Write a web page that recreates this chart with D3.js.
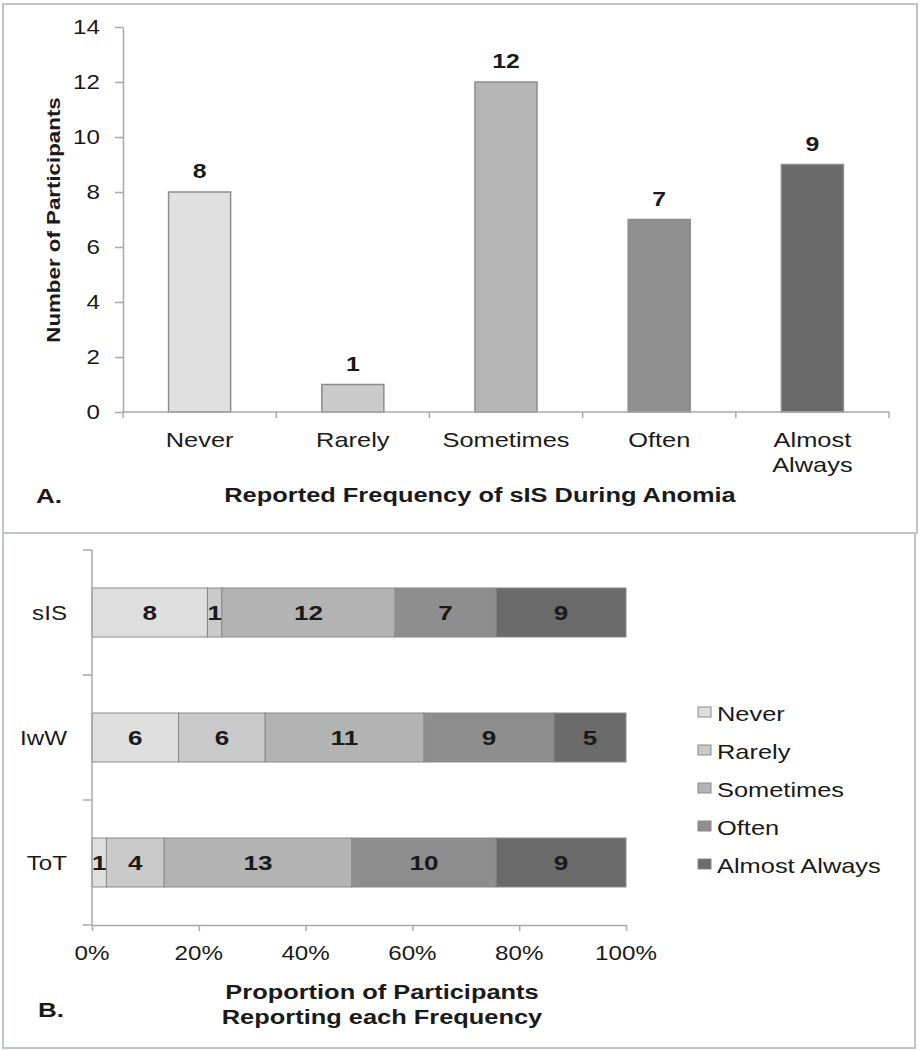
<!DOCTYPE html>
<html>
<head>
<meta charset="utf-8">
<script src="https://cdn.jsdelivr.net/npm/d3@7"></script>
<style>
  html, body { margin: 0; padding: 0; background: #fff; }
  svg { display: block; }
  text { font-family: "Liberation Sans", Arial, Helvetica, sans-serif; fill: #1a1a1a; }
</style>
</head>
<body>
<svg id="chart" width="921" height="1050"></svg>
<script>
// ---------- data ----------
const categories = ["Never", "Rarely", "Sometimes", "Often", "Almost Always"];
const countsSIS = [8, 1, 12, 7, 9];
const groups = ["sIS", "IwW", "ToT"];
const countsIwW = [6, 6, 11, 9, 5];
const countsToT = [1, 4, 13, 10, 9];
const yTicksA = [0, 2, 4, 6, 8, 10, 12, 14];
const xTicksB = [0, 0.2, 0.4, 0.6, 0.8, 1.0];
const xTickLabelsB = ["0%", "20%", "40%", "60%", "80%", "100%"];
const shadesA = ["#e0e0e0", "#cacaca", "#b6b6b6", "#8f8f8f", "#6a6a6a"];
const shadesB = ["#dedede", "#c9c9c9", "#b3b3b3", "#8e8e8e", "#6b6b6b"];

const svg = d3.select("#chart");
const STRETCH = 1.24;
const axisColor = "#a9a9a9";

function label(x, y, txt, o = {}) {
  const r = o.rotate || 0;
  return svg.append("text")
    .attr("transform", `translate(${x},${y}) rotate(${r}) scale(${STRETCH},1)`)
    .attr("text-anchor", o.anchor || "middle")
    .attr("font-size", o.size || 18)
    .attr("font-weight", o.bold ? "bold" : "normal")
    .text(txt);
}

// ---------- panel frames ----------
svg.append("rect").attr("x", 3).attr("y", 4).attr("width", 914).attr("height", 529)
  .attr("fill", "none").attr("stroke", "#c2c4c8").attr("stroke-width", 2);
svg.append("rect").attr("x", 3).attr("y", 533).attr("width", 912).attr("height", 515)
  .attr("fill", "none").attr("stroke", "#c0c4cc").attr("stroke-width", 2);

// ================= Panel A =================
const xA = d3.scaleBand().domain(categories).range([123, 889])
  .paddingInner(0.595).paddingOuter(0.2975);
const yA = d3.scaleLinear().domain([0, 14]).range([412, 27]);

// y axis
const gyA = svg.append("g").attr("transform", "translate(123,0)")
  .call(d3.axisLeft(yA).tickValues(yTicksA).tickSize(8).tickSizeOuter(0).tickFormat(""));
gyA.selectAll("path, line").attr("stroke", axisColor).attr("stroke-width", 1.5);
yTicksA.forEach(v => label(100, yA(v) + 7, String(v), { anchor: "end", size: 19.5 }));

// bars
svg.append("g").selectAll("rect").data(categories).join("rect")
  .attr("x", d => xA(d))
  .attr("y", (d, i) => yA(countsSIS[i]))
  .attr("width", xA.bandwidth())
  .attr("height", (d, i) => yA(0) - yA(countsSIS[i]))
  .attr("fill", (d, i) => shadesA[i])
  .attr("stroke", "#8c8c8c").attr("stroke-width", 1.5);

// x axis (ticks between categories)
const bndA = d3.range(categories.length + 1).map(i => xA.range()[0] + i * xA.step());
svg.append("line").attr("x1", bndA[0]).attr("x2", bndA[bndA.length - 1])
  .attr("y1", yA(0)).attr("y2", yA(0)).attr("stroke", axisColor).attr("stroke-width", 1.5);
svg.append("g").selectAll("line").data(bndA).join("line")
  .attr("x1", d => d).attr("x2", d => d).attr("y1", yA(0)).attr("y2", yA(0) + 6)
  .attr("stroke", axisColor).attr("stroke-width", 1.5);

// value labels
categories.forEach((c, i) => {
  label(xA(c) + xA.bandwidth() / 2, yA(countsSIS[i]) - 14, String(countsSIS[i]), { bold: true, size: 20 });
});

// category labels
categories.forEach(c => {
  const cx = xA(c) + xA.bandwidth() / 2;
  if (c === "Almost Always") {
    label(cx, 447, "Almost", { size: 20.5 });
    label(cx, 472, "Always", { size: 20.5 });
  } else {
    label(cx, 447, c, { size: 20.5 });
  }
});

// titles
label(60, 220, "Number of Participants", { rotate: -90, bold: true, size: 18 });
label(480, 502, "Reported Frequency of sIS During Anomia", { bold: true, size: 20.5 });
label(36, 503, "A.", { anchor: "start", bold: true, size: 21 });

// ================= Panel B =================
const seriesB = { "sIS": countsSIS, "IwW": countsIwW, "ToT": countsToT };
const xB = d3.scaleLinear().domain([0, 1]).range([92, 626]);
const yB = d3.scaleBand().domain(groups).range([550, 925]).paddingInner(0.608).paddingOuter(0.304);

// stacked segments
groups.forEach(g => {
  const vals = seriesB[g];
  const total = d3.sum(vals);
  let cum = 0;
  vals.forEach((v, i) => {
    const x0 = xB(cum / total);
    cum += v;
    const x1 = xB(cum / total);
    svg.append("rect")
      .attr("x", x0).attr("y", yB(g))
      .attr("width", x1 - x0).attr("height", yB.bandwidth())
      .attr("fill", shadesB[i]).attr("stroke", "#8a8a8a").attr("stroke-width", 1);
    label((x0 + x1) / 2, yB(g) + yB.bandwidth() / 2 + 7.5, String(v), { bold: true, size: 21 });
  });
});

// y axis B (ticks between groups)
const bndB = d3.range(groups.length + 1).map(i => yB.range()[0] + i * yB.step());
svg.append("line").attr("x1", xB(0)).attr("x2", xB(0))
  .attr("y1", bndB[0]).attr("y2", bndB[bndB.length - 1]).attr("stroke", axisColor).attr("stroke-width", 1.5);
svg.append("g").selectAll("line").data(bndB).join("line")
  .attr("x1", xB(0) - 9).attr("x2", xB(0)).attr("y1", d => d).attr("y2", d => d)
  .attr("stroke", axisColor).attr("stroke-width", 1.5);
groups.forEach(g => label(67, yB(g) + yB.bandwidth() / 2 + 7, g, { anchor: "end", size: 19.5 }));

// x axis B
const gxB = svg.append("g").attr("transform", `translate(0,${bndB[bndB.length - 1]})`)
  .call(d3.axisBottom(xB).tickValues(xTicksB).tickSize(6).tickSizeOuter(0).tickFormat(""));
gxB.selectAll("path, line").attr("stroke", axisColor).attr("stroke-width", 1.5);
xTicksB.forEach((t, i) => label(xB(t), 960, xTickLabelsB[i], { size: 19.5 }));

// titles B
label(382, 999, "Proportion of Participants", { bold: true, size: 20.5 });
label(382, 1024, "Reporting each Frequency", { bold: true, size: 20.5 });
label(38, 1017, "B.", { anchor: "start", bold: true, size: 21 });

// legend
categories.forEach((c, i) => {
  const base = 721 + i * 38;
  svg.append("rect").attr("x", 698).attr("y", base - 14).attr("width", 13).attr("height", 10)
    .attr("fill", shadesB[i]).attr("stroke", "#8a8a8a").attr("stroke-width", 1);
  label(717, base, c, { anchor: "start", size: 20.5 });
});
</script>
</body>
</html>
